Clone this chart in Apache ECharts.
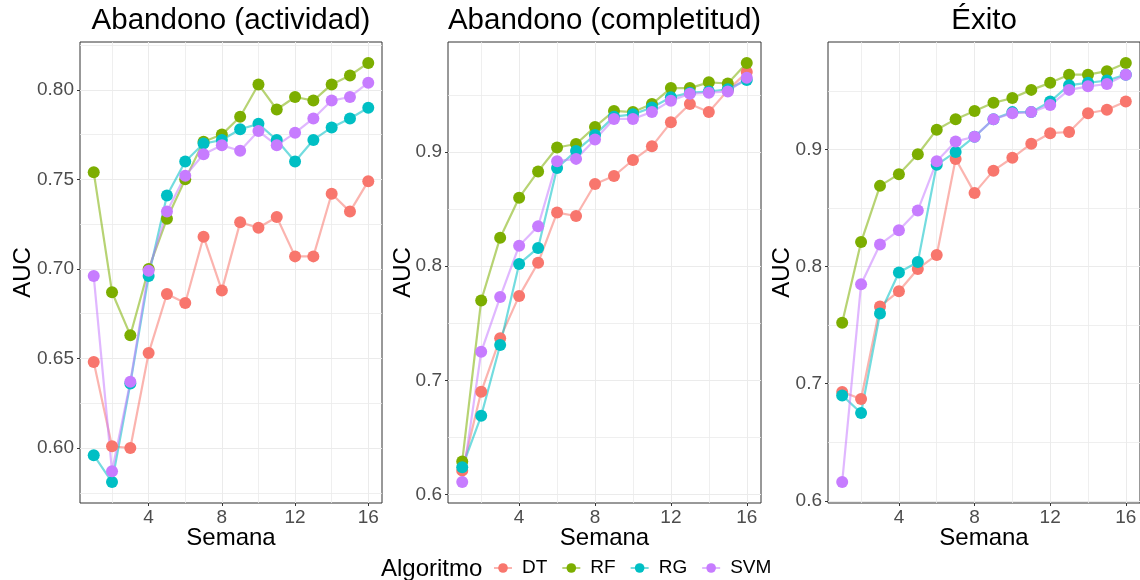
<!DOCTYPE html>
<html>
<head>
<meta charset="utf-8">
<script src="https://cdn.jsdelivr.net/npm/echarts@6/dist/echarts.min.js"></script>
<style>
html, body { margin: 0; padding: 0; background: #fff; }
#chart { width: 1140px; height: 580px; }
</style>
</head>
<body>
<div id="chart"></div>
<script>
// semanas 1..16
const weeks = [1, 2, 3, 4, 5, 6, 7, 8, 9, 10, 11, 12, 13, 14, 15, 16];
const algos = ['DT', 'RF', 'RG', 'SVM'];

// Abandono (actividad)
const actDT  = [0.648, 0.601, 0.600, 0.653, 0.686, 0.681, 0.718, 0.688, 0.726, 0.723, 0.729, 0.707, 0.707, 0.742, 0.732, 0.749];
const actRF  = [0.754, 0.687, 0.663, 0.700, 0.728, 0.750, 0.771, 0.775, 0.785, 0.803, 0.789, 0.796, 0.794, 0.803, 0.808, 0.815];
const actRG  = [0.596, 0.581, 0.636, 0.696, 0.741, 0.760, 0.770, 0.772, 0.778, 0.781, 0.772, 0.760, 0.772, 0.779, 0.784, 0.790];
const actSVM = [0.696, 0.587, 0.637, 0.699, 0.732, 0.752, 0.764, 0.769, 0.766, 0.777, 0.769, 0.776, 0.784, 0.794, 0.796, 0.804];

// Abandono (completitud)
const comDT  = [0.621, 0.690, 0.737, 0.774, 0.803, 0.847, 0.844, 0.872, 0.879, 0.893, 0.905, 0.926, 0.942, 0.935, 0.954, 0.970];
const comRF  = [0.629, 0.770, 0.825, 0.860, 0.883, 0.904, 0.907, 0.922, 0.936, 0.935, 0.942, 0.956, 0.956, 0.961, 0.960, 0.978];
const comRG  = [0.624, 0.669, 0.731, 0.802, 0.816, 0.886, 0.901, 0.915, 0.931, 0.933, 0.939, 0.948, 0.952, 0.953, 0.955, 0.963];
const comSVM = [0.611, 0.725, 0.773, 0.818, 0.835, 0.892, 0.894, 0.911, 0.929, 0.929, 0.935, 0.945, 0.951, 0.952, 0.953, 0.965];

// Éxito
const exiDT  = [0.693, 0.687, 0.766, 0.779, 0.798, 0.810, 0.892, 0.863, 0.882, 0.893, 0.905, 0.914, 0.915, 0.931, 0.934, 0.941];
const exiRF  = [0.752, 0.821, 0.869, 0.879, 0.896, 0.917, 0.926, 0.933, 0.940, 0.944, 0.951, 0.957, 0.964, 0.964, 0.967, 0.974];
const exiRG  = [0.690, 0.675, 0.760, 0.795, 0.804, 0.887, 0.898, 0.911, 0.926, 0.932, 0.932, 0.941, 0.955, 0.957, 0.959, 0.964];
const exiSVM = [0.616, 0.785, 0.819, 0.831, 0.848, 0.890, 0.907, 0.911, 0.926, 0.931, 0.932, 0.938, 0.951, 0.954, 0.956, 0.964];

// ticks (major) and minor grid lines
const xLabels = [4, 8, 12, 16];
const xMinor = [2, 6, 10, 14];
const yLabels1 = [0.60, 0.65, 0.70, 0.75, 0.80];
const yMinor1 = [0.575, 0.625, 0.675, 0.725, 0.775, 0.825];
const yLabels2 = [0.6, 0.7, 0.8, 0.9];
const yMinor2 = [0.65, 0.75, 0.85, 0.95];

const colors = { DT: '#F8766D', RF: '#7CAE00', RG: '#00BFC4', SVM: '#C77CFF' };
const FONT = '"Liberation Sans", Arial, sans-serif';
const GRID_COL = '#ebebeb';

const panels = [
  { title: 'Abandono (actividad)', vals: [actDT, actRF, actRG, actSVM], left: 80, width: 302, labels: yLabels1, minor: yMinor1, dec: 2, nameGap: 45 },
  { title: 'Abandono (completitud)', vals: [comDT, comRF, comRG, comSVM], left: 448, width: 313, labels: yLabels2, minor: yMinor2, dec: 1, nameGap: 33 },
  { title: 'Éxito', vals: [exiDT, exiRF, exiRG, exiSVM], left: 828, width: 312, labels: yLabels2, minor: yMinor2, dec: 1, nameGap: 34 },
];

// ggplot style 5% expansion
function limits(arrs) {
  const all = [].concat(...arrs);
  const lo = Math.min(...all), hi = Math.max(...all);
  const pad = (hi - lo) * 0.05;
  return [lo - pad, hi + pad];
}

const chart = echarts.init(document.getElementById('chart'), null, { renderer: 'canvas' });

const grids = [], xAxes = [], yAxes = [], titles = [], series = [];
panels.forEach((p, i) => {
  grids.push({ left: p.left, top: 42, width: p.width, height: 461, show: true, borderColor: '#333333', borderWidth: 1, backgroundColor: '#fff' });
  titles.push({
    text: p.title, left: p.left + p.width / 2, top: 6, padding: 0, textAlign: 'center',
    textStyle: { fontFamily: FONT, fontSize: 29.5, fontWeight: 'normal', color: '#000' },
  });
  const [lo, hi] = limits(p.vals);
  // main axes: index 2*i ; helper axes for minor grid: index 2*i+1
  xAxes.push({
    gridIndex: i, type: 'value', min: 0.25, max: 16.75,
    name: 'Semana', nameLocation: 'middle', nameGap: 23, nameMoveOverlap: false,
    nameTextStyle: { fontFamily: FONT, fontSize: 24, color: '#000' },
    axisLine: { show: false },
    axisTick: { show: true, length: 3, customValues: xLabels, lineStyle: { color: '#333333' } },
    axisLabel: { customValues: xLabels, fontFamily: FONT, fontSize: 19, color: '#4d4d4d', margin: 5 },
    splitLine: { show: true, lineStyle: { color: GRID_COL, width: 1 } },
    z: 1,
  }, {
    gridIndex: i, type: 'value', min: 0.25, max: 16.75, position: 'bottom',
    axisLine: { show: false }, axisLabel: { show: false },
    axisTick: { show: false, customValues: xMinor },
    splitLine: { show: true, lineStyle: { color: GRID_COL, width: 0.8 } },
    z: 0,
  });
  yAxes.push({
    gridIndex: i, type: 'value', min: lo, max: hi,
    name: 'AUC', nameLocation: 'middle', nameGap: p.nameGap, nameRotate: 90, nameMoveOverlap: false,
    nameTextStyle: { fontFamily: FONT, fontSize: 24, color: '#000' },
    axisLine: { show: false },
    axisTick: { show: true, length: 3, customValues: p.labels, lineStyle: { color: '#333333' } },
    axisLabel: { customValues: p.labels, fontFamily: FONT, fontSize: 19, color: '#4d4d4d', margin: 6,
      formatter: v => Number(v).toFixed(p.dec) },
    splitLine: { show: true, lineStyle: { color: GRID_COL, width: 1 } },
    z: 1,
  }, {
    gridIndex: i, type: 'value', min: lo, max: hi, position: 'left',
    axisLine: { show: false }, axisLabel: { show: false },
    axisTick: { show: false, customValues: p.minor },
    splitLine: { show: true, lineStyle: { color: GRID_COL, width: 0.8 } },
    z: 0,
  });
  algos.forEach((a, k) => {
    series.push({
      name: a, type: 'line', xAxisIndex: 2 * i, yAxisIndex: 2 * i,
      data: weeks.map((w, j) => [w, p.vals[k][j]]),
      symbol: 'circle', symbolSize: 12, showSymbol: true,
      lineStyle: { color: colors[a], width: 2.2, opacity: 0.55 },
      itemStyle: { color: colors[a], opacity: 1 },
      emphasis: { disabled: true },
      animation: false,
    });
  });
});

chart.setOption({
  animation: false,
  title: titles,
  grid: grids,
  xAxis: xAxes,
  yAxis: yAxes,
  series,
  legend: {
    data: algos, left: 488, top: 551, orient: 'horizontal',
    itemWidth: 18, itemHeight: 12, itemGap: 14,
    textStyle: { fontFamily: FONT, fontSize: 19, color: '#000', padding: [0, 0, 0, 5], lineHeight: 24 },
  },
  graphic: [{
    type: 'text', left: 381, top: 557,
    style: { text: 'Algoritmo', fontFamily: FONT, fontSize: 24, fill: '#000' },
  }],
});
</script>
</body>
</html>
